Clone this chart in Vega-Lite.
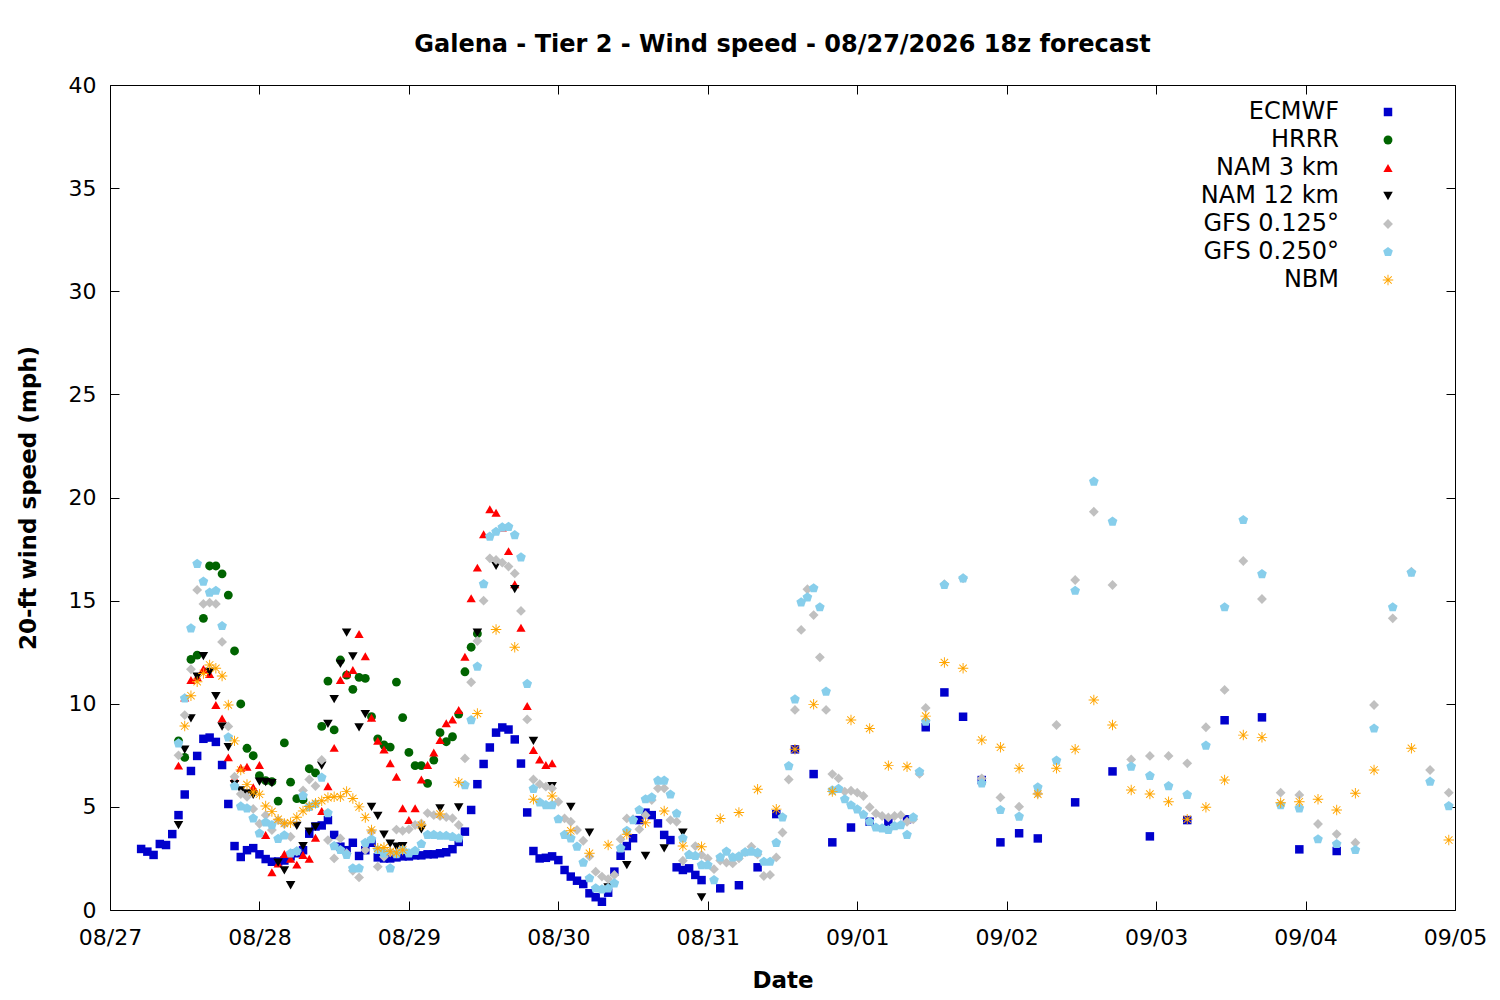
{
  "$schema": "https://vega.github.io/schema/vega-lite/v6.json",
  "width": 1345,
  "height": 825,
  "autosize": "none",
  "padding": {"left": 110, "top": 85, "right": 45, "bottom": 90},
  "background": "white",
  "title": {"text": "Galena - Tier 2 - Wind speed - 08/27/2026 18z forecast", "font": "DejaVu Sans", "fontSize": 24, "fontWeight": "bold", "color": "#000", "offset": 17},
  "config": {
    "view": {"stroke": "#000", "strokeWidth": 1},
    "axis": {"labelFont": "DejaVu Sans", "titleFont": "DejaVu Sans", "labelColor": "#000", "titleColor": "#000", "tickColor": "#000", "grid": false, "domain": false, "labelFontSize": 22, "titleFontSize": 23, "titleFontWeight": "bold", "tickSize": -9, "labelFlush": false}
  },
  "data": {"values": [
    {"m":"ECMWF","h":5,"v":2.96},{"m":"ECMWF","h":6,"v":2.83},{"m":"ECMWF","h":7,"v":2.67},{"m":"ECMWF","h":8,"v":3.2},{"m":"ECMWF","h":9,"v":3.15},{"m":"ECMWF","h":10,"v":3.68},{"m":"ECMWF","h":11,"v":4.6},{"m":"ECMWF","h":12,"v":5.6},{"m":"ECMWF","h":13,"v":6.74},{"m":"ECMWF","h":14,"v":7.47},{"m":"ECMWF","h":15,"v":8.3},{"m":"ECMWF","h":16,"v":8.36},{"m":"ECMWF","h":17,"v":8.15},{"m":"ECMWF","h":18,"v":7.03},{"m":"ECMWF","h":19,"v":5.14},{"m":"ECMWF","h":20,"v":3.1},{"m":"ECMWF","h":21,"v":2.57},{"m":"ECMWF","h":22,"v":2.9},{"m":"ECMWF","h":23,"v":3.0},{"m":"ECMWF","h":24,"v":2.7},{"m":"ECMWF","h":25,"v":2.47},{"m":"ECMWF","h":26,"v":2.34},{"m":"ECMWF","h":27,"v":2.35},{"m":"ECMWF","h":28,"v":2.4},{"m":"ECMWF","h":29,"v":2.6},{"m":"ECMWF","h":30,"v":2.75},{"m":"ECMWF","h":31,"v":2.9},{"m":"ECMWF","h":32,"v":3.7},{"m":"ECMWF","h":33,"v":4.05},{"m":"ECMWF","h":34,"v":4.1},{"m":"ECMWF","h":35,"v":4.36},{"m":"ECMWF","h":36,"v":3.64},{"m":"ECMWF","h":37,"v":3.07},{"m":"ECMWF","h":38,"v":2.9},{"m":"ECMWF","h":39,"v":3.26},{"m":"ECMWF","h":40,"v":2.62},{"m":"ECMWF","h":41,"v":2.9},{"m":"ECMWF","h":42,"v":3.26},{"m":"ECMWF","h":43,"v":2.55},{"m":"ECMWF","h":44,"v":2.5},{"m":"ECMWF","h":45,"v":2.5},{"m":"ECMWF","h":46,"v":2.55},{"m":"ECMWF","h":47,"v":2.6},{"m":"ECMWF","h":48,"v":2.6},{"m":"ECMWF","h":49,"v":2.65},{"m":"ECMWF","h":50,"v":2.65},{"m":"ECMWF","h":51,"v":2.7},{"m":"ECMWF","h":52,"v":2.7},{"m":"ECMWF","h":53,"v":2.75},{"m":"ECMWF","h":54,"v":2.8},{"m":"ECMWF","h":55,"v":2.95},{"m":"ECMWF","h":56,"v":3.3},{"m":"ECMWF","h":57,"v":3.8},{"m":"ECMWF","h":58,"v":4.85},{"m":"ECMWF","h":59,"v":6.1},{"m":"ECMWF","h":60,"v":7.08},{"m":"ECMWF","h":61,"v":7.88},{"m":"ECMWF","h":62,"v":8.6},{"m":"ECMWF","h":63,"v":8.85},{"m":"ECMWF","h":64,"v":8.75},{"m":"ECMWF","h":65,"v":8.27},{"m":"ECMWF","h":66,"v":7.1},{"m":"ECMWF","h":67,"v":4.73},{"m":"ECMWF","h":68,"v":2.86},{"m":"ECMWF","h":69,"v":2.5},{"m":"ECMWF","h":70,"v":2.53},{"m":"ECMWF","h":71,"v":2.6},{"m":"ECMWF","h":72,"v":2.42},{"m":"ECMWF","h":73,"v":1.94},{"m":"ECMWF","h":74,"v":1.62},{"m":"ECMWF","h":75,"v":1.42},{"m":"ECMWF","h":76,"v":1.26},{"m":"ECMWF","h":77,"v":0.81},{"m":"ECMWF","h":78,"v":0.62},{"m":"ECMWF","h":79,"v":0.4},{"m":"ECMWF","h":80,"v":0.84},{"m":"ECMWF","h":81,"v":1.86},{"m":"ECMWF","h":82,"v":2.63},{"m":"ECMWF","h":83,"v":3.1},{"m":"ECMWF","h":84,"v":3.48},{"m":"ECMWF","h":85,"v":4.36},{"m":"ECMWF","h":86,"v":4.72},{"m":"ECMWF","h":87,"v":4.6},{"m":"ECMWF","h":88,"v":4.2},{"m":"ECMWF","h":89,"v":3.64},{"m":"ECMWF","h":90,"v":3.39},{"m":"ECMWF","h":91,"v":2.07},{"m":"ECMWF","h":92,"v":1.94},{"m":"ECMWF","h":93,"v":2.02},{"m":"ECMWF","h":94,"v":1.7},{"m":"ECMWF","h":95,"v":1.45},{"m":"ECMWF","h":98,"v":1.05},{"m":"ECMWF","h":101,"v":1.2},{"m":"ECMWF","h":104,"v":2.07},{"m":"ECMWF","h":107,"v":4.65},{"m":"ECMWF","h":110,"v":7.79},{"m":"ECMWF","h":113,"v":6.59},{"m":"ECMWF","h":116,"v":3.28},{"m":"ECMWF","h":119,"v":4.0},{"m":"ECMWF","h":122,"v":4.28},{"m":"ECMWF","h":125,"v":4.28},{"m":"ECMWF","h":128,"v":4.4},{"m":"ECMWF","h":131,"v":8.86},{"m":"ECMWF","h":134,"v":10.55},{"m":"ECMWF","h":137,"v":9.37},{"m":"ECMWF","h":140,"v":6.3},{"m":"ECMWF","h":143,"v":3.28},{"m":"ECMWF","h":146,"v":3.72},{"m":"ECMWF","h":149,"v":3.47},{"m":"ECMWF","h":155,"v":5.22},{"m":"ECMWF","h":161,"v":6.72},{"m":"ECMWF","h":167,"v":3.57},{"m":"ECMWF","h":173,"v":4.36},{"m":"ECMWF","h":179,"v":9.2},{"m":"ECMWF","h":185,"v":9.34},{"m":"ECMWF","h":191,"v":2.94},{"m":"ECMWF","h":197,"v":2.86},
    {"m":"HRRR","h":11,"v":8.2},{"m":"HRRR","h":12,"v":7.4},{"m":"HRRR","h":13,"v":12.15},{"m":"HRRR","h":14,"v":12.36},{"m":"HRRR","h":15,"v":14.14},{"m":"HRRR","h":16,"v":16.68},{"m":"HRRR","h":17,"v":16.68},{"m":"HRRR","h":18,"v":16.3},{"m":"HRRR","h":19,"v":15.27},{"m":"HRRR","h":20,"v":12.56},{"m":"HRRR","h":21,"v":9.99},{"m":"HRRR","h":22,"v":7.84},{"m":"HRRR","h":23,"v":7.48},{"m":"HRRR","h":24,"v":6.51},{"m":"HRRR","h":25,"v":6.27},{"m":"HRRR","h":26,"v":6.22},{"m":"HRRR","h":27,"v":5.28},{"m":"HRRR","h":28,"v":8.1},{"m":"HRRR","h":29,"v":6.2},{"m":"HRRR","h":30,"v":5.4},{"m":"HRRR","h":31,"v":5.35},{"m":"HRRR","h":32,"v":6.85},{"m":"HRRR","h":33,"v":6.65},{"m":"HRRR","h":34,"v":8.9},{"m":"HRRR","h":35,"v":11.1},{"m":"HRRR","h":36,"v":8.73},{"m":"HRRR","h":37,"v":12.12},{"m":"HRRR","h":38,"v":11.39},{"m":"HRRR","h":39,"v":10.7},{"m":"HRRR","h":40,"v":11.28},{"m":"HRRR","h":41,"v":11.23},{"m":"HRRR","h":42,"v":9.37},{"m":"HRRR","h":43,"v":8.3},{"m":"HRRR","h":44,"v":8.0},{"m":"HRRR","h":45,"v":7.9},{"m":"HRRR","h":46,"v":11.05},{"m":"HRRR","h":47,"v":9.33},{"m":"HRRR","h":48,"v":7.64},{"m":"HRRR","h":49,"v":7.0},{"m":"HRRR","h":50,"v":7.0},{"m":"HRRR","h":51,"v":6.14},{"m":"HRRR","h":52,"v":7.27},{"m":"HRRR","h":53,"v":8.6},{"m":"HRRR","h":54,"v":8.16},{"m":"HRRR","h":55,"v":8.4},{"m":"HRRR","h":56,"v":9.5},{"m":"HRRR","h":57,"v":11.55},{"m":"HRRR","h":58,"v":12.74},{"m":"HRRR","h":59,"v":13.4},
    {"m":"NAM 3 km","h":11,"v":7.0},{"m":"NAM 3 km","h":12,"v":10.3},{"m":"NAM 3 km","h":13,"v":11.15},{"m":"NAM 3 km","h":14,"v":11.3},{"m":"NAM 3 km","h":15,"v":11.68},{"m":"NAM 3 km","h":16,"v":11.44},{"m":"NAM 3 km","h":17,"v":9.94},{"m":"NAM 3 km","h":18,"v":9.29},{"m":"NAM 3 km","h":19,"v":7.4},{"m":"NAM 3 km","h":20,"v":6.4},{"m":"NAM 3 km","h":21,"v":6.9},{"m":"NAM 3 km","h":22,"v":6.95},{"m":"NAM 3 km","h":23,"v":5.95},{"m":"NAM 3 km","h":24,"v":7.03},{"m":"NAM 3 km","h":25,"v":3.64},{"m":"NAM 3 km","h":26,"v":1.83},{"m":"NAM 3 km","h":27,"v":2.25},{"m":"NAM 3 km","h":28,"v":2.72},{"m":"NAM 3 km","h":29,"v":2.48},{"m":"NAM 3 km","h":30,"v":2.2},{"m":"NAM 3 km","h":31,"v":2.67},{"m":"NAM 3 km","h":32,"v":2.48},{"m":"NAM 3 km","h":33,"v":3.5},{"m":"NAM 3 km","h":34,"v":4.8},{"m":"NAM 3 km","h":35,"v":6.0},{"m":"NAM 3 km","h":36,"v":7.86},{"m":"NAM 3 km","h":37,"v":11.15},{"m":"NAM 3 km","h":38,"v":11.47},{"m":"NAM 3 km","h":39,"v":11.64},{"m":"NAM 3 km","h":40,"v":13.38},{"m":"NAM 3 km","h":41,"v":12.3},{"m":"NAM 3 km","h":42,"v":9.32},{"m":"NAM 3 km","h":43,"v":8.2},{"m":"NAM 3 km","h":44,"v":7.78},{"m":"NAM 3 km","h":45,"v":7.11},{"m":"NAM 3 km","h":46,"v":6.46},{"m":"NAM 3 km","h":47,"v":4.93},{"m":"NAM 3 km","h":48,"v":4.36},{"m":"NAM 3 km","h":49,"v":4.93},{"m":"NAM 3 km","h":50,"v":6.33},{"m":"NAM 3 km","h":51,"v":7.03},{"m":"NAM 3 km","h":52,"v":7.64},{"m":"NAM 3 km","h":53,"v":8.24},{"m":"NAM 3 km","h":54,"v":9.05},{"m":"NAM 3 km","h":55,"v":9.24},{"m":"NAM 3 km","h":56,"v":9.7},{"m":"NAM 3 km","h":57,"v":12.28},{"m":"NAM 3 km","h":58,"v":15.11},{"m":"NAM 3 km","h":59,"v":16.6},{"m":"NAM 3 km","h":60,"v":18.22},{"m":"NAM 3 km","h":61,"v":19.43},{"m":"NAM 3 km","h":62,"v":19.26},{"m":"NAM 3 km","h":63,"v":18.55},{"m":"NAM 3 km","h":64,"v":17.4},{"m":"NAM 3 km","h":65,"v":15.79},{"m":"NAM 3 km","h":66,"v":13.69},{"m":"NAM 3 km","h":67,"v":9.89},{"m":"NAM 3 km","h":68,"v":7.76},{"m":"NAM 3 km","h":69,"v":7.3},{"m":"NAM 3 km","h":70,"v":7.03},{"m":"NAM 3 km","h":71,"v":7.11},
    {"m":"NAM 12 km","h":11,"v":4.12},{"m":"NAM 12 km","h":12,"v":7.78},{"m":"NAM 12 km","h":13,"v":9.29},{"m":"NAM 12 km","h":14,"v":11.31},{"m":"NAM 12 km","h":15,"v":12.31},{"m":"NAM 12 km","h":16,"v":11.55},{"m":"NAM 12 km","h":17,"v":10.37},{"m":"NAM 12 km","h":18,"v":8.89},{"m":"NAM 12 km","h":19,"v":7.9},{"m":"NAM 12 km","h":20,"v":6.1},{"m":"NAM 12 km","h":21,"v":5.8},{"m":"NAM 12 km","h":22,"v":5.65},{"m":"NAM 12 km","h":23,"v":5.58},{"m":"NAM 12 km","h":24,"v":6.22},{"m":"NAM 12 km","h":25,"v":6.2},{"m":"NAM 12 km","h":26,"v":6.15},{"m":"NAM 12 km","h":27,"v":2.3},{"m":"NAM 12 km","h":28,"v":1.92},{"m":"NAM 12 km","h":29,"v":1.2},{"m":"NAM 12 km","h":30,"v":4.08},{"m":"NAM 12 km","h":31,"v":3.1},{"m":"NAM 12 km","h":32,"v":3.8},{"m":"NAM 12 km","h":33,"v":4.03},{"m":"NAM 12 km","h":34,"v":7.0},{"m":"NAM 12 km","h":35,"v":9.02},{"m":"NAM 12 km","h":36,"v":10.23},{"m":"NAM 12 km","h":37,"v":11.93},{"m":"NAM 12 km","h":38,"v":13.45},{"m":"NAM 12 km","h":39,"v":12.3},{"m":"NAM 12 km","h":40,"v":8.86},{"m":"NAM 12 km","h":41,"v":9.5},{"m":"NAM 12 km","h":42,"v":5.0},{"m":"NAM 12 km","h":43,"v":4.56},{"m":"NAM 12 km","h":44,"v":3.65},{"m":"NAM 12 km","h":45,"v":3.22},{"m":"NAM 12 km","h":46,"v":3.07},{"m":"NAM 12 km","h":47,"v":3.1},{"m":"NAM 12 km","h":50,"v":3.91},{"m":"NAM 12 km","h":53,"v":4.93},{"m":"NAM 12 km","h":56,"v":4.98},{"m":"NAM 12 km","h":59,"v":13.45},{"m":"NAM 12 km","h":62,"v":16.68},{"m":"NAM 12 km","h":65,"v":15.56},{"m":"NAM 12 km","h":68,"v":8.2},{"m":"NAM 12 km","h":71,"v":6.0},{"m":"NAM 12 km","h":74,"v":5.0},{"m":"NAM 12 km","h":77,"v":3.75},{"m":"NAM 12 km","h":80,"v":1.1},{"m":"NAM 12 km","h":83,"v":2.18},{"m":"NAM 12 km","h":86,"v":2.63},{"m":"NAM 12 km","h":89,"v":2.99},{"m":"NAM 12 km","h":92,"v":3.75},{"m":"NAM 12 km","h":95,"v":0.61},
    {"m":"GFS 0.125°","h":11,"v":7.5},{"m":"GFS 0.125°","h":12,"v":9.45},{"m":"GFS 0.125°","h":13,"v":11.67},{"m":"GFS 0.125°","h":14,"v":15.52},{"m":"GFS 0.125°","h":15,"v":14.84},{"m":"GFS 0.125°","h":16,"v":14.9},{"m":"GFS 0.125°","h":17,"v":14.84},{"m":"GFS 0.125°","h":18,"v":13.0},{"m":"GFS 0.125°","h":19,"v":8.9},{"m":"GFS 0.125°","h":20,"v":6.46},{"m":"GFS 0.125°","h":21,"v":5.62},{"m":"GFS 0.125°","h":22,"v":5.49},{"m":"GFS 0.125°","h":23,"v":4.9},{"m":"GFS 0.125°","h":24,"v":4.18},{"m":"GFS 0.125°","h":25,"v":4.6},{"m":"GFS 0.125°","h":26,"v":3.88},{"m":"GFS 0.125°","h":27,"v":4.36},{"m":"GFS 0.125°","h":28,"v":4.17},{"m":"GFS 0.125°","h":29,"v":3.55},{"m":"GFS 0.125°","h":30,"v":2.85},{"m":"GFS 0.125°","h":31,"v":5.8},{"m":"GFS 0.125°","h":32,"v":6.33},{"m":"GFS 0.125°","h":33,"v":6.01},{"m":"GFS 0.125°","h":34,"v":7.27},{"m":"GFS 0.125°","h":35,"v":3.39},{"m":"GFS 0.125°","h":36,"v":2.5},{"m":"GFS 0.125°","h":37,"v":3.47},{"m":"GFS 0.125°","h":38,"v":2.75},{"m":"GFS 0.125°","h":39,"v":1.9},{"m":"GFS 0.125°","h":40,"v":1.58},{"m":"GFS 0.125°","h":41,"v":2.91},{"m":"GFS 0.125°","h":42,"v":3.8},{"m":"GFS 0.125°","h":43,"v":2.1},{"m":"GFS 0.125°","h":44,"v":2.58},{"m":"GFS 0.125°","h":45,"v":2.8},{"m":"GFS 0.125°","h":46,"v":3.9},{"m":"GFS 0.125°","h":47,"v":3.84},{"m":"GFS 0.125°","h":48,"v":3.91},{"m":"GFS 0.125°","h":49,"v":4.12},{"m":"GFS 0.125°","h":50,"v":4.2},{"m":"GFS 0.125°","h":51,"v":4.7},{"m":"GFS 0.125°","h":52,"v":4.6},{"m":"GFS 0.125°","h":53,"v":4.55},{"m":"GFS 0.125°","h":54,"v":4.5},{"m":"GFS 0.125°","h":55,"v":4.45},{"m":"GFS 0.125°","h":56,"v":4.12},{"m":"GFS 0.125°","h":57,"v":7.35},{"m":"GFS 0.125°","h":58,"v":11.04},{"m":"GFS 0.125°","h":59,"v":13.04},{"m":"GFS 0.125°","h":60,"v":15.0},{"m":"GFS 0.125°","h":61,"v":17.05},{"m":"GFS 0.125°","h":62,"v":16.97},{"m":"GFS 0.125°","h":63,"v":16.84},{"m":"GFS 0.125°","h":64,"v":16.65},{"m":"GFS 0.125°","h":65,"v":16.32},{"m":"GFS 0.125°","h":66,"v":14.5},{"m":"GFS 0.125°","h":67,"v":9.24},{"m":"GFS 0.125°","h":68,"v":6.33},{"m":"GFS 0.125°","h":69,"v":6.1},{"m":"GFS 0.125°","h":70,"v":5.98},{"m":"GFS 0.125°","h":71,"v":5.9},{"m":"GFS 0.125°","h":72,"v":5.25},{"m":"GFS 0.125°","h":73,"v":4.44},{"m":"GFS 0.125°","h":74,"v":4.28},{"m":"GFS 0.125°","h":75,"v":3.88},{"m":"GFS 0.125°","h":76,"v":3.36},{"m":"GFS 0.125°","h":77,"v":2.6},{"m":"GFS 0.125°","h":78,"v":1.86},{"m":"GFS 0.125°","h":79,"v":1.62},{"m":"GFS 0.125°","h":80,"v":1.5},{"m":"GFS 0.125°","h":81,"v":1.7},{"m":"GFS 0.125°","h":82,"v":3.43},{"m":"GFS 0.125°","h":83,"v":4.44},{"m":"GFS 0.125°","h":84,"v":4.4},{"m":"GFS 0.125°","h":85,"v":3.91},{"m":"GFS 0.125°","h":86,"v":4.6},{"m":"GFS 0.125°","h":87,"v":5.33},{"m":"GFS 0.125°","h":88,"v":5.9},{"m":"GFS 0.125°","h":89,"v":5.9},{"m":"GFS 0.125°","h":90,"v":4.36},{"m":"GFS 0.125°","h":91,"v":4.28},{"m":"GFS 0.125°","h":92,"v":2.39},{"m":"GFS 0.125°","h":93,"v":2.7},{"m":"GFS 0.125°","h":94,"v":3.1},{"m":"GFS 0.125°","h":95,"v":2.67},{"m":"GFS 0.125°","h":96,"v":2.5},{"m":"GFS 0.125°","h":97,"v":1.98},{"m":"GFS 0.125°","h":98,"v":2.4},{"m":"GFS 0.125°","h":99,"v":2.3},{"m":"GFS 0.125°","h":100,"v":2.26},{"m":"GFS 0.125°","h":101,"v":2.5},{"m":"GFS 0.125°","h":102,"v":2.8},{"m":"GFS 0.125°","h":103,"v":3.07},{"m":"GFS 0.125°","h":104,"v":2.7},{"m":"GFS 0.125°","h":105,"v":1.65},{"m":"GFS 0.125°","h":106,"v":1.7},{"m":"GFS 0.125°","h":107,"v":2.55},{"m":"GFS 0.125°","h":108,"v":3.76},{"m":"GFS 0.125°","h":109,"v":6.33},{"m":"GFS 0.125°","h":110,"v":9.7},{"m":"GFS 0.125°","h":111,"v":13.58},{"m":"GFS 0.125°","h":112,"v":15.55},{"m":"GFS 0.125°","h":113,"v":14.3},{"m":"GFS 0.125°","h":114,"v":12.25},{"m":"GFS 0.125°","h":115,"v":9.7},{"m":"GFS 0.125°","h":116,"v":6.59},{"m":"GFS 0.125°","h":117,"v":6.38},{"m":"GFS 0.125°","h":118,"v":5.74},{"m":"GFS 0.125°","h":119,"v":5.78},{"m":"GFS 0.125°","h":120,"v":5.69},{"m":"GFS 0.125°","h":121,"v":5.53},{"m":"GFS 0.125°","h":122,"v":4.98},{"m":"GFS 0.125°","h":123,"v":4.68},{"m":"GFS 0.125°","h":124,"v":4.56},{"m":"GFS 0.125°","h":125,"v":4.49},{"m":"GFS 0.125°","h":126,"v":4.56},{"m":"GFS 0.125°","h":127,"v":4.6},{"m":"GFS 0.125°","h":128,"v":4.28},{"m":"GFS 0.125°","h":129,"v":4.4},{"m":"GFS 0.125°","h":130,"v":6.6},{"m":"GFS 0.125°","h":131,"v":9.8},{"m":"GFS 0.125°","h":134,"v":15.8},{"m":"GFS 0.125°","h":137,"v":16.08},{"m":"GFS 0.125°","h":140,"v":6.38},{"m":"GFS 0.125°","h":143,"v":5.46},{"m":"GFS 0.125°","h":146,"v":5.01},{"m":"GFS 0.125°","h":149,"v":5.65},{"m":"GFS 0.125°","h":152,"v":8.97},{"m":"GFS 0.125°","h":155,"v":16.0},{"m":"GFS 0.125°","h":158,"v":19.31},{"m":"GFS 0.125°","h":161,"v":15.76},{"m":"GFS 0.125°","h":164,"v":7.3},{"m":"GFS 0.125°","h":167,"v":7.47},{"m":"GFS 0.125°","h":170,"v":7.47},{"m":"GFS 0.125°","h":173,"v":7.11},{"m":"GFS 0.125°","h":176,"v":8.86},{"m":"GFS 0.125°","h":179,"v":10.67},{"m":"GFS 0.125°","h":182,"v":16.92},{"m":"GFS 0.125°","h":185,"v":15.08},{"m":"GFS 0.125°","h":188,"v":5.69},{"m":"GFS 0.125°","h":191,"v":5.58},{"m":"GFS 0.125°","h":194,"v":4.17},{"m":"GFS 0.125°","h":197,"v":3.68},{"m":"GFS 0.125°","h":200,"v":3.26},{"m":"GFS 0.125°","h":203,"v":9.94},{"m":"GFS 0.125°","h":206,"v":14.14},{"m":"GFS 0.125°","h":209,"v":16.4},{"m":"GFS 0.125°","h":212,"v":6.79},{"m":"GFS 0.125°","h":215,"v":5.69},
    {"m":"GFS 0.250°","h":11,"v":8.08},{"m":"GFS 0.250°","h":12,"v":10.26},{"m":"GFS 0.250°","h":13,"v":13.66},{"m":"GFS 0.250°","h":14,"v":16.78},{"m":"GFS 0.250°","h":15,"v":15.92},{"m":"GFS 0.250°","h":16,"v":15.39},{"m":"GFS 0.250°","h":17,"v":15.48},{"m":"GFS 0.250°","h":18,"v":13.77},{"m":"GFS 0.250°","h":19,"v":8.37},{"m":"GFS 0.250°","h":20,"v":6.0},{"m":"GFS 0.250°","h":21,"v":5.02},{"m":"GFS 0.250°","h":22,"v":4.93},{"m":"GFS 0.250°","h":23,"v":4.44},{"m":"GFS 0.250°","h":24,"v":3.72},{"m":"GFS 0.250°","h":25,"v":4.25},{"m":"GFS 0.250°","h":26,"v":4.12},{"m":"GFS 0.250°","h":27,"v":3.45},{"m":"GFS 0.250°","h":28,"v":3.62},{"m":"GFS 0.250°","h":29,"v":2.75},{"m":"GFS 0.250°","h":30,"v":2.85},{"m":"GFS 0.250°","h":31,"v":5.53},{"m":"GFS 0.250°","h":32,"v":5.0},{"m":"GFS 0.250°","h":33,"v":5.14},{"m":"GFS 0.250°","h":34,"v":6.42},{"m":"GFS 0.250°","h":35,"v":4.7},{"m":"GFS 0.250°","h":36,"v":3.1},{"m":"GFS 0.250°","h":37,"v":2.91},{"m":"GFS 0.250°","h":38,"v":2.67},{"m":"GFS 0.250°","h":39,"v":2.02},{"m":"GFS 0.250°","h":40,"v":2.02},{"m":"GFS 0.250°","h":41,"v":3.26},{"m":"GFS 0.250°","h":42,"v":3.43},{"m":"GFS 0.250°","h":43,"v":2.91},{"m":"GFS 0.250°","h":44,"v":2.75},{"m":"GFS 0.250°","h":45,"v":2.02},{"m":"GFS 0.250°","h":46,"v":2.71},{"m":"GFS 0.250°","h":47,"v":2.91},{"m":"GFS 0.250°","h":48,"v":2.75},{"m":"GFS 0.250°","h":49,"v":2.87},{"m":"GFS 0.250°","h":50,"v":3.2},{"m":"GFS 0.250°","h":51,"v":3.64},{"m":"GFS 0.250°","h":52,"v":3.64},{"m":"GFS 0.250°","h":53,"v":3.6},{"m":"GFS 0.250°","h":54,"v":3.6},{"m":"GFS 0.250°","h":55,"v":3.55},{"m":"GFS 0.250°","h":56,"v":3.47},{"m":"GFS 0.250°","h":57,"v":6.06},{"m":"GFS 0.250°","h":58,"v":9.21},{"m":"GFS 0.250°","h":59,"v":11.8},{"m":"GFS 0.250°","h":60,"v":15.8},{"m":"GFS 0.250°","h":61,"v":18.1},{"m":"GFS 0.250°","h":62,"v":18.34},{"m":"GFS 0.250°","h":63,"v":18.55},{"m":"GFS 0.250°","h":64,"v":18.58},{"m":"GFS 0.250°","h":65,"v":18.18},{"m":"GFS 0.250°","h":66,"v":17.1},{"m":"GFS 0.250°","h":67,"v":10.96},{"m":"GFS 0.250°","h":68,"v":5.87},{"m":"GFS 0.250°","h":69,"v":5.22},{"m":"GFS 0.250°","h":70,"v":5.09},{"m":"GFS 0.250°","h":71,"v":5.09},{"m":"GFS 0.250°","h":72,"v":4.4},{"m":"GFS 0.250°","h":73,"v":3.64},{"m":"GFS 0.250°","h":74,"v":3.47},{"m":"GFS 0.250°","h":75,"v":3.07},{"m":"GFS 0.250°","h":76,"v":2.3},{"m":"GFS 0.250°","h":77,"v":1.54},{"m":"GFS 0.250°","h":78,"v":1.05},{"m":"GFS 0.250°","h":79,"v":1.0},{"m":"GFS 0.250°","h":80,"v":1.05},{"m":"GFS 0.250°","h":81,"v":1.29},{"m":"GFS 0.250°","h":82,"v":2.99},{"m":"GFS 0.250°","h":83,"v":3.84},{"m":"GFS 0.250°","h":84,"v":4.36},{"m":"GFS 0.250°","h":85,"v":4.85},{"m":"GFS 0.250°","h":86,"v":5.37},{"m":"GFS 0.250°","h":87,"v":5.46},{"m":"GFS 0.250°","h":88,"v":6.27},{"m":"GFS 0.250°","h":89,"v":6.27},{"m":"GFS 0.250°","h":90,"v":5.6},{"m":"GFS 0.250°","h":91,"v":4.68},{"m":"GFS 0.250°","h":92,"v":3.47},{"m":"GFS 0.250°","h":93,"v":2.67},{"m":"GFS 0.250°","h":94,"v":2.62},{"m":"GFS 0.250°","h":95,"v":2.18},{"m":"GFS 0.250°","h":96,"v":2.18},{"m":"GFS 0.250°","h":97,"v":1.45},{"m":"GFS 0.250°","h":98,"v":2.55},{"m":"GFS 0.250°","h":99,"v":2.83},{"m":"GFS 0.250°","h":100,"v":2.55},{"m":"GFS 0.250°","h":101,"v":2.6},{"m":"GFS 0.250°","h":102,"v":2.8},{"m":"GFS 0.250°","h":103,"v":2.83},{"m":"GFS 0.250°","h":104,"v":2.78},{"m":"GFS 0.250°","h":105,"v":2.34},{"m":"GFS 0.250°","h":106,"v":2.34},{"m":"GFS 0.250°","h":107,"v":3.26},{"m":"GFS 0.250°","h":108,"v":4.49},{"m":"GFS 0.250°","h":109,"v":6.98},{"m":"GFS 0.250°","h":110,"v":10.21},{"m":"GFS 0.250°","h":111,"v":14.92},{"m":"GFS 0.250°","h":112,"v":15.16},{"m":"GFS 0.250°","h":113,"v":15.6},{"m":"GFS 0.250°","h":114,"v":14.68},{"m":"GFS 0.250°","h":115,"v":10.59},{"m":"GFS 0.250°","h":116,"v":5.8},{"m":"GFS 0.250°","h":117,"v":5.87},{"m":"GFS 0.250°","h":118,"v":5.37},{"m":"GFS 0.250°","h":119,"v":5.08},{"m":"GFS 0.250°","h":120,"v":4.88},{"m":"GFS 0.250°","h":121,"v":4.62},{"m":"GFS 0.250°","h":122,"v":4.28},{"m":"GFS 0.250°","h":123,"v":4.0},{"m":"GFS 0.250°","h":124,"v":3.96},{"m":"GFS 0.250°","h":125,"v":3.88},{"m":"GFS 0.250°","h":126,"v":4.07},{"m":"GFS 0.250°","h":127,"v":4.12},{"m":"GFS 0.250°","h":128,"v":3.64},{"m":"GFS 0.250°","h":129,"v":4.49},{"m":"GFS 0.250°","h":130,"v":6.7},{"m":"GFS 0.250°","h":131,"v":9.13},{"m":"GFS 0.250°","h":134,"v":15.76},{"m":"GFS 0.250°","h":137,"v":16.08},{"m":"GFS 0.250°","h":140,"v":6.14},{"m":"GFS 0.250°","h":143,"v":4.85},{"m":"GFS 0.250°","h":146,"v":4.53},{"m":"GFS 0.250°","h":149,"v":5.95},{"m":"GFS 0.250°","h":152,"v":7.24},{"m":"GFS 0.250°","h":155,"v":15.48},{"m":"GFS 0.250°","h":158,"v":20.77},{"m":"GFS 0.250°","h":161,"v":18.83},{"m":"GFS 0.250°","h":164,"v":6.95},{"m":"GFS 0.250°","h":167,"v":6.5},{"m":"GFS 0.250°","h":170,"v":6.01},{"m":"GFS 0.250°","h":173,"v":5.58},{"m":"GFS 0.250°","h":176,"v":7.97},{"m":"GFS 0.250°","h":179,"v":14.68},{"m":"GFS 0.250°","h":182,"v":18.91},{"m":"GFS 0.250°","h":185,"v":16.29},{"m":"GFS 0.250°","h":188,"v":5.09},{"m":"GFS 0.250°","h":191,"v":4.93},{"m":"GFS 0.250°","h":194,"v":3.43},{"m":"GFS 0.250°","h":197,"v":3.2},{"m":"GFS 0.250°","h":200,"v":2.91},{"m":"GFS 0.250°","h":203,"v":8.8},{"m":"GFS 0.250°","h":206,"v":14.68},{"m":"GFS 0.250°","h":209,"v":16.36},{"m":"GFS 0.250°","h":212,"v":6.22},{"m":"GFS 0.250°","h":215,"v":5.04},
    {"m":"NBM","h":12,"v":8.92},{"m":"NBM","h":13,"v":10.39},{"m":"NBM","h":14,"v":11.07},{"m":"NBM","h":15,"v":11.47},{"m":"NBM","h":16,"v":11.88},{"m":"NBM","h":17,"v":11.72},{"m":"NBM","h":18,"v":11.35},{"m":"NBM","h":19,"v":9.94},{"m":"NBM","h":20,"v":8.2},{"m":"NBM","h":21,"v":6.79},{"m":"NBM","h":22,"v":6.08},{"m":"NBM","h":23,"v":5.72},{"m":"NBM","h":24,"v":5.61},{"m":"NBM","h":25,"v":5.04},{"m":"NBM","h":26,"v":4.77},{"m":"NBM","h":27,"v":4.4},{"m":"NBM","h":28,"v":4.2},{"m":"NBM","h":29,"v":4.23},{"m":"NBM","h":30,"v":4.5},{"m":"NBM","h":31,"v":4.8},{"m":"NBM","h":32,"v":5.02},{"m":"NBM","h":33,"v":5.17},{"m":"NBM","h":34,"v":5.3},{"m":"NBM","h":35,"v":5.45},{"m":"NBM","h":36,"v":5.49},{"m":"NBM","h":37,"v":5.49},{"m":"NBM","h":38,"v":5.74},{"m":"NBM","h":39,"v":5.41},{"m":"NBM","h":40,"v":5.0},{"m":"NBM","h":41,"v":4.49},{"m":"NBM","h":42,"v":3.88},{"m":"NBM","h":43,"v":2.99},{"m":"NBM","h":44,"v":3.03},{"m":"NBM","h":45,"v":2.83},{"m":"NBM","h":46,"v":2.77},{"m":"NBM","h":47,"v":2.91},{"m":"NBM","h":50,"v":4.12},{"m":"NBM","h":53,"v":4.65},{"m":"NBM","h":56,"v":6.19},{"m":"NBM","h":59,"v":9.53},{"m":"NBM","h":62,"v":13.6},{"m":"NBM","h":65,"v":12.74},{"m":"NBM","h":68,"v":5.37},{"m":"NBM","h":71,"v":5.53},{"m":"NBM","h":74,"v":3.84},{"m":"NBM","h":77,"v":2.75},{"m":"NBM","h":80,"v":3.15},{"m":"NBM","h":83,"v":3.67},{"m":"NBM","h":86,"v":4.23},{"m":"NBM","h":89,"v":4.8},{"m":"NBM","h":92,"v":3.1},{"m":"NBM","h":95,"v":3.07},{"m":"NBM","h":98,"v":4.44},{"m":"NBM","h":101,"v":4.73},{"m":"NBM","h":104,"v":5.85},{"m":"NBM","h":107,"v":4.89},{"m":"NBM","h":110,"v":7.79},{"m":"NBM","h":113,"v":9.97},{"m":"NBM","h":116,"v":5.74},{"m":"NBM","h":119,"v":9.21},{"m":"NBM","h":122,"v":8.8},{"m":"NBM","h":125,"v":7.0},{"m":"NBM","h":128,"v":6.95},{"m":"NBM","h":131,"v":9.4},{"m":"NBM","h":134,"v":12.0},{"m":"NBM","h":137,"v":11.72},{"m":"NBM","h":140,"v":8.24},{"m":"NBM","h":143,"v":7.89},{"m":"NBM","h":146,"v":6.87},{"m":"NBM","h":149,"v":5.62},{"m":"NBM","h":152,"v":6.87},{"m":"NBM","h":155,"v":7.79},{"m":"NBM","h":158,"v":10.18},{"m":"NBM","h":161,"v":8.97},{"m":"NBM","h":164,"v":5.82},{"m":"NBM","h":167,"v":5.62},{"m":"NBM","h":170,"v":5.25},{"m":"NBM","h":173,"v":4.4},{"m":"NBM","h":176,"v":4.98},{"m":"NBM","h":179,"v":6.3},{"m":"NBM","h":182,"v":8.48},{"m":"NBM","h":185,"v":8.37},{"m":"NBM","h":188,"v":5.2},{"m":"NBM","h":191,"v":5.25},{"m":"NBM","h":194,"v":5.37},{"m":"NBM","h":197,"v":4.85},{"m":"NBM","h":200,"v":5.66},{"m":"NBM","h":203,"v":6.79},{"m":"NBM","h":209,"v":7.84},{"m":"NBM","h":215,"v":3.39}
  ]},
  "layer": [
    {
      "mark": {"type": "point", "filled": true, "opacity": 1, "strokeWidth": 0},
      "encoding": {
        "x": {"field": "h", "type": "quantitative", "scale": {"domain": [0, 216], "nice": false, "zero": false},
          "axis": {"orient": "bottom", "values": [0, 24, 48, 72, 96, 120, 144, 168, 192, 216],
            "labelExpr": "['08/27','08/28','08/29','08/30','08/31','09/01','09/02','09/03','09/04','09/05'][round(datum.value / 24)]",
            "labelPadding": 26, "title": "Date", "titlePadding": 21}},
        "y": {"field": "v", "type": "quantitative", "scale": {"domain": [0, 40], "nice": false},
          "axis": {"orient": "left", "values": [0, 5, 10, 15, 20, 25, 30, 35, 40], "labelPadding": 23, "title": "20-ft wind speed (mph)", "titlePadding": 28}},
        "color": {"field": "m", "type": "nominal",
          "scale": {"domain": ["ECMWF", "HRRR", "NAM 3 km", "NAM 12 km", "GFS 0.125°", "GFS 0.250°", "NBM"],
            "range": ["#0000cc", "#006400", "#ff0000", "#000000", "#c0c0c0", "#87ceeb", "#ffa500"]},
          "legend": {"title": null, "orient": "none", "legendX": 1266, "legendY": 15, "labelAlign": "right", "labelOffset": -61, "labelFont": "DejaVu Sans", "labelFontSize": 24, "labelColor": "#000", "rowPadding": 4, "symbolStrokeWidth": 0}},
        "shape": {"field": "m", "type": "nominal",
          "scale": {"domain": ["ECMWF", "HRRR", "NAM 3 km", "NAM 12 km", "GFS 0.125°", "GFS 0.250°", "NBM"],
            "range": ["square", "circle", "triangle-up", "triangle-down", "diamond",
              "M0,-1L0.951,-0.309L0.588,0.809L-0.588,0.809L-0.951,-0.309Z",
              "M-1,-0.09H1V0.09H-1Z M-0.09,-1H0.09V1H-0.09Z M0.771,0.643L0.643,0.771L-0.771,-0.643L-0.643,-0.771Z M0.771,-0.643L-0.643,0.771L-0.771,0.643L0.643,-0.771Z"]},
          "legend": {"title": null, "orient": "none", "legendX": 1266, "legendY": 15, "labelAlign": "right", "labelOffset": -61, "labelFont": "DejaVu Sans", "labelFontSize": 24, "labelColor": "#000", "rowPadding": 4, "symbolStrokeWidth": 0}},
        "size": {"field": "m", "type": "nominal",
          "scale": {"domain": ["ECMWF", "HRRR", "NAM 3 km", "NAM 12 km", "GFS 0.125°", "GFS 0.250°", "NBM"],
            "range": [72, 110, 120, 120, 90, 130, 180]},
          "legend": {"title": null, "orient": "none", "legendX": 1266, "legendY": 15, "labelAlign": "right", "labelOffset": -61, "labelFont": "DejaVu Sans", "labelFontSize": 24, "labelColor": "#000", "rowPadding": 4, "symbolStrokeWidth": 0}}
      }
    },
    {
      "mark": {"type": "point", "opacity": 0},
      "encoding": {
        "x": {"field": "h", "type": "quantitative", "axis": {"orient": "top", "values": [0, 24, 48, 72, 96, 120, 144, 168, 192, 216], "labels": false, "title": null}},
        "y": {"field": "v", "type": "quantitative", "axis": {"orient": "right", "values": [0, 5, 10, 15, 20, 25, 30, 35, 40], "labels": false, "title": null}}
      }
    }
  ],
  "resolve": {"axis": {"x": "independent", "y": "independent"}}
}
